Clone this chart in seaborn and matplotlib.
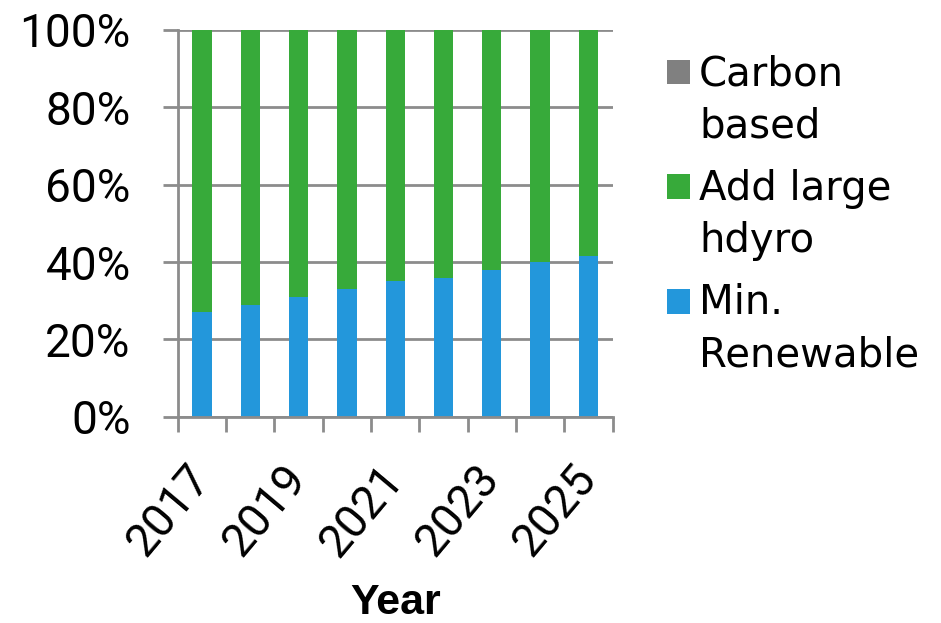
import matplotlib
matplotlib.use("Agg")
import matplotlib.pyplot as plt
import seaborn as sns
import numpy as np
import pandas as pd
from matplotlib.patches import Rectangle
from matplotlib.legend_handler import HandlerPatch
from matplotlib.ticker import FixedLocator, PercentFormatter

years = [2017, 2018, 2019, 2020, 2021, 2022, 2023, 2024, 2025]
min_renewable = [27, 29, 31, 33, 35, 36, 38, 40, 41.5]
add_large_hydro = [73, 71, 69, 67, 65, 64, 62, 60, 58.5]
carbon_based = [0, 0, 0, 0, 0, 0, 0, 0, 0]
series_labels = ["Carbon\nbased", "Add large\nhdyro", "Min.\nRenewable"]
colors = ["#808080", "#37AA3A", "#2397DB"]
yticks = [0, 20, 40, 60, 80, 100]

sns.set_theme(style="white")
plt.rcParams["font.family"] = ["DejaVu Sans"]
plt.rcParams["text.color"] = "black"
plt.rcParams["axes.labelcolor"] = "black"

df = pd.DataFrame({
    "Year": [str(y) for y in years],
    "renew": min_renewable,
    "hydro": add_large_hydro,
    "carbon": carbon_based,
})
df["top_hydro"] = df["renew"] + df["hydro"]
df["top_carbon"] = df["top_hydro"] + df["carbon"]

fig = plt.figure(figsize=(9.41, 6.23), dpi=100)
ax = fig.add_axes([0.189, 0.331, 0.462, 0.621])

grid_c = "#8C8C8C"
ax.set_axisbelow(True)
ax.yaxis.grid(True, color=grid_c, linewidth=2)

sns.barplot(data=df, x="Year", y="top_carbon", color=colors[0], width=0.4,
            saturation=1, linewidth=0, ax=ax)
sns.barplot(data=df, x="Year", y="top_hydro", color=colors[1], width=0.4,
            saturation=1, linewidth=0, ax=ax)
sns.barplot(data=df, x="Year", y="renew", color=colors[2], width=0.4,
            saturation=1, linewidth=0, ax=ax)

ax.set_ylim(0, 100)
ax.set_xlim(-0.5, len(years) - 0.5)
ax.set_yticks(yticks)
ax.yaxis.set_major_formatter(PercentFormatter(decimals=0))

tick_font = dict(family="Roboto", size=33)
ax.set_xticks(range(0, len(years), 2))
ax.set_xticklabels([str(y) for y in years[::2]], rotation=50, ha="right",
                   va="center", rotation_mode="anchor", fontdict=tick_font)
for t in ax.get_yticklabels():
    t.set_fontfamily("Roboto")
    t.set_fontsize(33)
ax.xaxis.set_minor_locator(FixedLocator(np.arange(-0.5, len(years), 1)))
ax.tick_params(axis="x", which="major", length=0, pad=39, colors="black")
ax.tick_params(axis="x", which="minor", length=11, width=2, color=grid_c, bottom=True)
ax.tick_params(axis="y", which="major", length=11, width=2, color=grid_c, left=True,
               pad=23, labelcolor="black")

for s in ["top", "right"]:
    ax.spines[s].set_visible(False)
for s in ["left", "bottom"]:
    ax.spines[s].set_color(grid_c)
    ax.spines[s].set_linewidth(2)

ax.set_ylabel("")
ax.set_xlabel("Year", fontsize=31, fontweight="bold", family="Liberation Sans")
ax.xaxis.set_label_coords(0.5, -0.43)

LEG_FS = 29


def square(legend, orig_handle, xdescent, ydescent, width, height, fontsize):
    shift = 0.735 * fontsize
    return Rectangle((-xdescent, -ydescent + shift), width, height)


handles = [Rectangle((0, 0), 1, 1, facecolor=c, edgecolor="none") for c in colors]
leg = ax.legend(handles, series_labels, loc="upper left",
                bbox_to_anchor=(0.709, 0.913), bbox_transform=fig.transFigure,
                frameon=False, fontsize=LEG_FS, handlelength=0.57, handleheight=0.57,
                handletextpad=0.22, labelspacing=0.55, borderaxespad=0, borderpad=0,
                handler_map={Rectangle: HandlerPatch(patch_func=square)})
for t in leg.get_texts():
    t.set_linespacing(1.4)

fig.savefig("out.png", dpi=100)
